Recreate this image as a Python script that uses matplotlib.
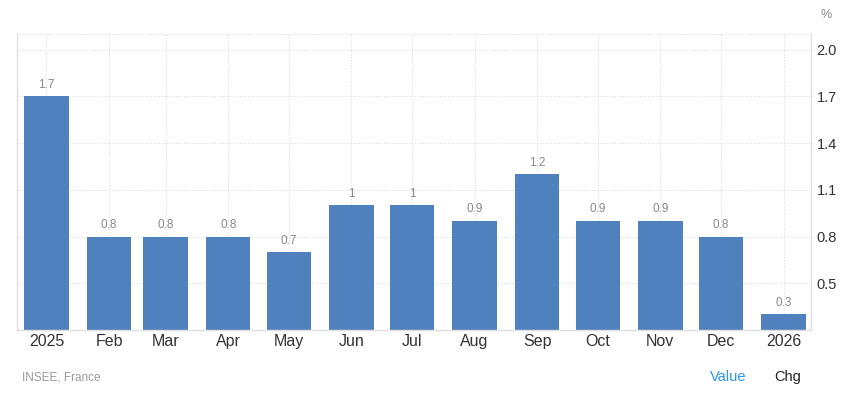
import numpy as np
import matplotlib.pyplot as plt
import matplotlib.dates as mdates
from datetime import date

# monthly change, %
months = [date(2025, m, 1) for m in range(1, 13)] + [date(2026, 1, 1)]
values = [1.7, 0.8, 0.8, 0.8, 0.7, 1.0, 1.0, 0.9, 1.2, 0.9, 0.9, 0.8, 0.3]
value_labels = ["1.7", "0.8", "0.8", "0.8", "0.7", "1", "1", "0.9", "1.2", "0.9", "0.9", "0.8", "0.3"]
tick_labels = ["2025", "Feb", "Mar", "Apr", "May", "Jun", "Jul", "Aug", "Sep", "Oct", "Nov", "Dec", "2026"]
y_ticks = [0.5, 0.8, 1.1, 1.4, 1.7, 2.0]

plt.rcParams['font.family'] = ['Liberation Sans', 'DejaVu Sans']

fig = plt.figure(figsize=(8.49, 3.95), dpi=100)
ax = fig.add_axes([17 / 849, 65 / 395, 794 / 849, 296 / 395])

x = mdates.date2num(months)
ax.bar(x, values, width=22, color="#4e81bd", zorder=2)
ax.set_ylim(0.2, 2.1)
ax.set_xlim(x[0] - 14.6, x[-1] + 13.6)

for xi, v, lab in zip(x, values, value_labels):
    ax.annotate(lab, (xi, v), xytext=(0, 4), textcoords="offset points",
                ha="center", va="bottom", fontsize=8.5, color="#888888")

ax.set_xticks(x)
ax.set_xticklabels(tick_labels, fontsize=11.5, color="#333333")
ax.set_yticks(y_ticks)
ax.set_yticklabels([f"{t:.1f}" for t in y_ticks], fontsize=10.5, color="#333333")
ax.yaxis.tick_right()
ax.tick_params(axis="both", length=0)
ax.tick_params(axis="x", pad=3)
ax.tick_params(axis="y", pad=4)

ax.grid(True, color="#dddddd", linestyle=(0, (1, 1.5)), linewidth=0.8, zorder=0)
ax.axhline(2.1, color="#dddddd", linestyle=(0, (1, 1.5)), linewidth=0.8, zorder=0)
for side in ["left", "bottom", "right"]:
    ax.spines[side].set_color("#e0e0e0")
    ax.spines[side].set_linewidth(1)
ax.spines["top"].set_visible(False)

fig.text(826 / 849, 1 - 15 / 395, "%", fontsize=9, color="#888888", ha="center", va="center")
fig.text(22 / 849, 1 - 377 / 395, "INSEE, France", fontsize=8.5, color="#999999", ha="left", va="center")
fig.text(728 / 849, 1 - 377 / 395, "Value", fontsize=10.5, color="#2b95f0", ha="center", va="center")
fig.text(788 / 849, 1 - 377 / 395, "Chg", fontsize=10.5, color="#222222", ha="center", va="center")

fig.savefig("out.png", dpi=100)
